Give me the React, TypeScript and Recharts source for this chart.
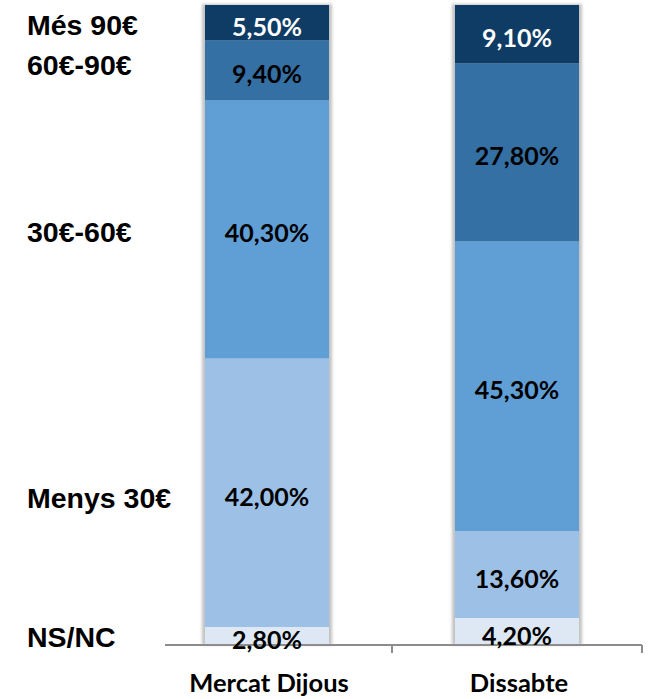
import React from 'react';
import { BarChart, Bar, XAxis, YAxis, LabelList } from 'recharts';

const categories = ['Mercat Dijous', 'Dissabte'];
const nsnc = [2.8, 4.2];
const menys30 = [42.0, 13.6];
const de30a60 = [40.3, 45.3];
const de60a90 = [9.4, 27.8];
const mes90 = [5.5, 9.1];

const seriesNames = ['NS/NC', 'Menys 30€', '30€-60€', '60€-90€', 'Més 90€'];
const seriesKeys = ['nsnc', 'menys30', 'de30a60', 'de60a90', 'mes90'];
const seriesColors = ['#dde8f4', '#9dc1e6', '#609fd6', '#3470a4', '#0f3c64'];
const labelColors = ['#000', '#000', '#000', '#000', '#fff'];

// category label ticks on the left side (value units)
const legendTickValues = [1.25, 23.0, 64.5, 90.6, 96.8];
const legendTickLabels = ['NS/NC', 'Menys 30€', '30€-60€', '60€-90€', 'Més 90€'];

const data = categories.map((name, i) => ({
  name,
  nsnc: nsnc[i],
  menys30: menys30[i],
  de30a60: de30a60[i],
  de60a90: de60a90[i],
  mes90: mes90[i],
}));

const fmt = (v: number) => v.toFixed(2).replace('.', ',') + '%';

const ShadowBg = (p: any) => (
  <rect
    x={p.x - 3}
    y={p.y - 1}
    width={p.width + 6}
    height={p.height + 1}
    fill="#c2c2c2"
    style={{ filter: 'blur(1.6px)' }}
  />
);

const makeLabel = (color: string) => (p: any) => {
  const x = Number(p.x), y = Number(p.y), w = Number(p.width), h = Number(p.height);
  return (
    <text
      x={x + w / 2}
      y={y + h / 2 + 3}
      textAnchor="middle"
      dominantBaseline="central"
      fill={color}
      style={{ fontFamily: 'Lato, sans-serif', fontWeight: 700, fontSize: 25 }}
    >
      {fmt(Number(p.value))}
    </text>
  );
};

const YTick = (p: any) => {
  const idx = p.index ?? legendTickValues.indexOf(p.payload.value);
  return (
    <text
      x={27}
      y={p.y}
      textAnchor="start"
      dominantBaseline="central"
      fill="#000"
      style={{ fontFamily: '"Liberation Sans", Arial, sans-serif', fontWeight: 700, fontSize: 28.5 }}
    >
      {legendTickLabels[idx]}
    </text>
  );
};

const XTick = (p: any) => {
  const half = p.payload && p.payload.offset ? p.payload.offset : 125;
  return (
    <g>
      <line x1={p.x + half} y1={p.y} x2={p.x + half} y2={p.y + 8} stroke="#8c8c8c" strokeWidth={2} />
      <text
        x={p.x + 2}
        y={p.y + 47}
        textAnchor="middle"
        fill="#000"
        style={{ fontFamily: 'Lato, sans-serif', fontWeight: 700, fontSize: 25.5 }}
      >
        {p.payload.value}
      </text>
    </g>
  );
};

export default function App() {
  return (
    <div style={{ position: 'absolute', left: 0, top: 0, width: 652, height: 699, background: '#fff' }}>
      <BarChart
        width={652}
        height={699}
        data={data}
        margin={{ top: 5, right: 10, bottom: 4, left: 0 }}
        barSize={124}
      >
        <XAxis
          dataKey="name"
          type="category"
          height={50}
          padding={{ left: -23, right: 0 }}
          axisLine={{ stroke: '#8c8c8c', strokeWidth: 2 }}
          tickLine={false}
          tickSize={0}
          tickMargin={0}
          interval={0}
          tick={<XTick />}
        />
        <YAxis
          type="number"
          domain={[0, 100]}
          width={165}
          ticks={legendTickValues}
          interval={0}
          axisLine={false}
          tickLine={false}
          tick={<YTick />}
        />
        {seriesKeys.map((k, i) => (
          <Bar
            key={k}
            dataKey={k}
            name={seriesNames[i]}
            stackId="a"
            fill={seriesColors[i]}
            isAnimationActive={false}
            background={i === 0 ? <ShadowBg /> : undefined}
          >
            <LabelList dataKey={k} content={makeLabel(labelColors[i])} />
          </Bar>
        ))}
      </BarChart>
    </div>
  );
}
